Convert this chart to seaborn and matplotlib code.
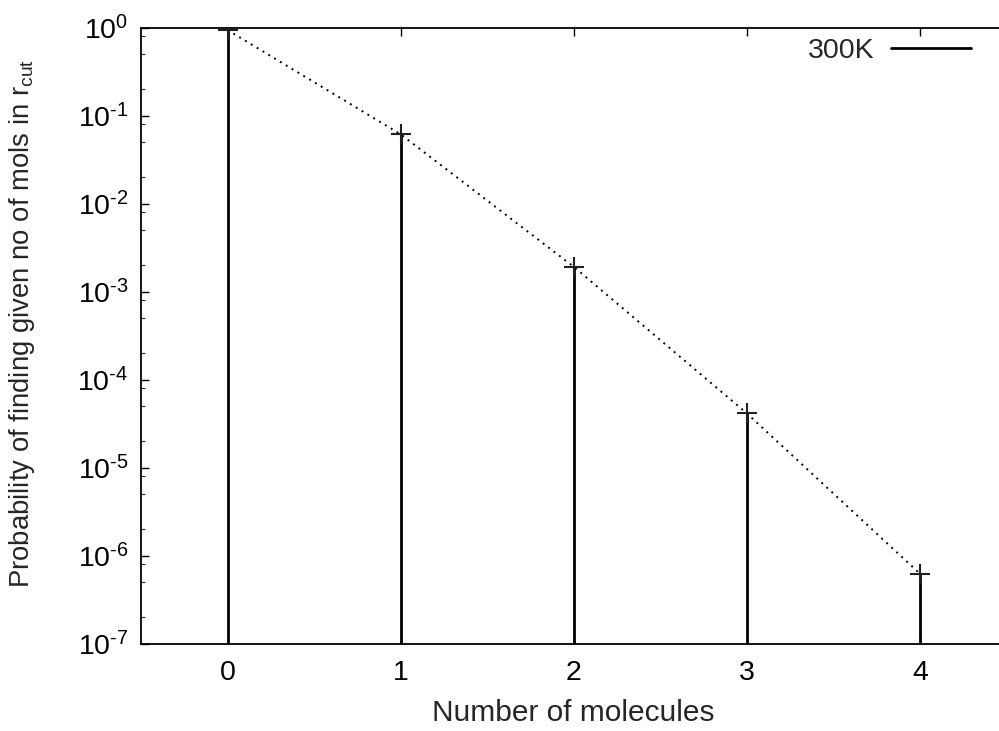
import numpy as np
import pandas as pd
import matplotlib
matplotlib.use("Agg")
import matplotlib.pyplot as plt
import matplotlib.ticker as mticker
from matplotlib.lines import Line2D
import seaborn as sns

# data
molecules = [0, 1, 2, 3, 4]
probability = [0.94, 0.0615, 1.92e-3, 4.15e-5, 6.24e-7]
xtick_labels = ["0", "1", "2", "3", "4"]
ytick_exponents = [-7, -6, -5, -4, -3, -2, -1, 0]
series_label = "300K"

df = pd.DataFrame({"n": molecules, "p": probability})

sns.set_style("ticks")
plt.rcParams["font.family"] = ["Liberation Sans", "DejaVu Sans"]
plt.rcParams["mathtext.fontset"] = "custom"
plt.rcParams["mathtext.rm"] = "Liberation Sans"
plt.rcParams["mathtext.it"] = "Liberation Sans:italic"
plt.rcParams["mathtext.default"] = "regular"

FS = 20.5
W, H = 999, 731
fig = plt.figure(figsize=(W / 100, H / 100), dpi=100)
ax = fig.add_axes([141 / W, 87.3 / H, (1006.5 - 141) / W, (643.7 - 27.7) / H])

ymin = 1e-7
# impulses
ax.vlines(df["n"], ymin, df["p"], color="black", lw=2.0, zorder=3)
# dotted connecting line
sns.lineplot(data=df, x="n", y="p", ax=ax, color="black", lw=1.4,
             linestyle=(0, (1, 2.5)), legend=False, zorder=2)
# plus markers
sns.scatterplot(data=df, x="n", y="p", ax=ax, marker="+", s=190,
                color="#222222", linewidth=1.5, legend=False, zorder=4)

ax.set_yscale("log")
ax.set_ylim(ymin, 1)
ax.set_xlim(-0.5, 4.5)
ax.set_xticks(molecules)
ax.set_xticklabels(xtick_labels)

yticks = [10.0 ** e for e in ytick_exponents]
ylabels = [r"$10^{\text{-%d}}$" % (-e) if e < 0 else r"$10^{%d}$" % e
           for e in ytick_exponents]
ax.set_yticks(yticks)
ax.set_yticklabels(ylabels)
minor = [m * 10.0 ** e for e in ytick_exponents[:-1] for m in (2, 5, 8)]
ax.set_yticks(minor, minor=True)
ax.yaxis.set_minor_formatter(mticker.NullFormatter())

for s in ax.spines.values():
    s.set_visible(True)
    s.set_linewidth(1.3)
    s.set_color("black")

ax.tick_params(axis="both", which="major", direction="in", length=6, width=1.0,
               top=True, right=True, labelsize=FS, pad=9, colors="black")
ax.tick_params(axis="y", which="minor", direction="in", length=3, width=0.8,
               left=True, right=True)
ax.tick_params(axis="x", which="major", pad=12)

ax.set_xlabel("Number of molecules", fontsize=21.5, labelpad=9)
ax.set_ylabel(r"Probability of finding given no of mols in r$_{cut}$", fontsize=19.8)
ax.yaxis.set_label_coords(-0.12, 0.52)

# gnuplot style key: text then line sample
handle = Line2D([], [], color="black", lw=2.0)
leg = fig.legend([handle], [series_label], loc="center right", frameon=False,
                 fontsize=FS, markerfirst=False, handlelength=2.8,
                 handletextpad=0.6, borderpad=0, borderaxespad=0,
                 bbox_to_anchor=(971 / W, 1 - 51 / H))

fig.savefig("out.png", dpi=100)
